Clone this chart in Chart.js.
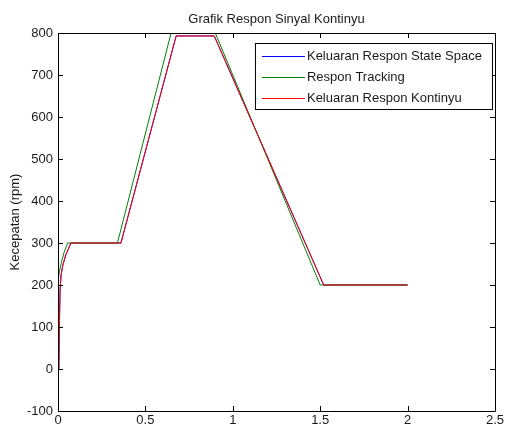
<!DOCTYPE html>
<html>
<head>
<meta charset="utf-8">
<script src="https://cdn.jsdelivr.net/npm/chart.js@4.4.1/dist/chart.umd.min.js"></script>
<style>
  html, body { margin: 0; padding: 0; background: #ffffff; }
  #wrap { width: 506px; height: 432px; }
</style>
</head>
<body>
<div id="wrap"><canvas id="c" width="506" height="432"></canvas></div>
<script>
// Time (s) and speed (rpm) samples for each response
const stateSpaceT = [0.005, 0.008, 0.012, 0.018, 0.028, 0.045, 0.074, 0.36, 0.676, 0.894, 1.52, 2.0];
const stateSpaceY = [0, 100, 190, 225, 248, 272, 300, 300, 793, 793, 200, 200];

const trackingT = [0, 0.008, 0.02, 0.035, 0.055, 0.34, 0.647, 0.9, 1.5, 2.0];
const trackingY = [210, 232, 255, 278, 300, 300, 800, 800, 200, 200];

const kontinyuT = [0.005, 0.008, 0.012, 0.018, 0.028, 0.045, 0.074, 0.36, 0.676, 0.894, 1.52, 2.0];
const kontinyuY = [0, 100, 190, 225, 248, 272, 300, 300, 793, 793, 200, 200];

const seriesLabels = ['Keluaran Respon State Space', 'Respon Tracking', 'Keluaran Respon Kontinyu'];
const seriesColors = ['#0000ff', '#008000', '#ff0000'];

const xTicks = [0, 0.5, 1, 1.5, 2, 2.5];
const yTicks = [-100, 0, 100, 200, 300, 400, 500, 600, 700, 800];

const titleText = 'Grafik Respon Sinyal Kontinyu';
const yTitleText = 'Kecepatan (rpm)';

const FONT = '"Liberation Sans", Arial, Helvetica, sans-serif';
const TEXT_COLOR = '#1a1a1a';

function pairs(ts, ys) {
  return ts.map((t, i) => ({ x: t, y: ys[i] }));
}

// Box frame with inward ticks on all four sides, plus the title
const framePlugin = {
  id: 'frame',
  afterDraw(chart) {
    const { ctx, chartArea: a, scales } = chart;
    const xs = scales.x, ys = scales.y;
    ctx.save();
    ctx.strokeStyle = '#000000';
    ctx.lineWidth = 1;
    ctx.beginPath();
    ctx.rect(Math.round(a.left) + 0.5, Math.round(a.top) + 0.5,
             Math.round(a.right - a.left), Math.round(a.bottom - a.top));
    ctx.stroke();
    const tl = 5;
    ctx.beginPath();
    xTicks.forEach(v => {
      const px = Math.round(xs.getPixelForValue(v)) + 0.5;
      ctx.moveTo(px, a.bottom); ctx.lineTo(px, a.bottom - tl);
      ctx.moveTo(px, a.top); ctx.lineTo(px, a.top + tl);
    });
    yTicks.forEach(v => {
      const py = Math.round(ys.getPixelForValue(v)) + 0.5;
      ctx.moveTo(a.left, py); ctx.lineTo(a.left + tl, py);
      ctx.moveTo(a.right, py); ctx.lineTo(a.right - tl, py);
    });
    ctx.stroke();

    ctx.fillStyle = TEXT_COLOR;
    ctx.font = '13px ' + FONT;
    ctx.textAlign = 'center';
    ctx.textBaseline = 'middle';
    ctx.fillText(titleText, (a.left + a.right) / 2, 19);
    ctx.restore();
  }
};

// Boxed legend inside the top-right of the plot
const boxLegendPlugin = {
  id: 'boxLegend',
  afterDraw(chart) {
    const { ctx, chartArea: a } = chart;
    const right = a.right - 3, left = right - 237;
    const top = a.top + 10, bottom = top + 66;
    ctx.save();
    ctx.fillStyle = '#ffffff';
    ctx.fillRect(left, top, right - left, bottom - top);
    ctx.strokeStyle = '#000000';
    ctx.lineWidth = 1;
    ctx.strokeRect(left + 0.5, top + 0.5, right - left, bottom - top);
    ctx.font = '13px ' + FONT;
    ctx.textAlign = 'left';
    ctx.textBaseline = 'middle';
    chart.data.datasets.forEach((ds, i) => {
      const y = top + 13 + i * 21;
      ctx.strokeStyle = ds.borderColor;
      ctx.beginPath();
      ctx.moveTo(left + 7, Math.round(y) + 0.5);
      ctx.lineTo(left + 50, Math.round(y) + 0.5);
      ctx.stroke();
      ctx.fillStyle = TEXT_COLOR;
      ctx.fillText(ds.label, left + 52, y);
    });
    ctx.restore();
  }
};

const lineStyle = { borderWidth: 1, pointRadius: 0, tension: 0, fill: false };

new Chart(document.getElementById('c'), {
  type: 'line',
  data: {
    datasets: [
      Object.assign({ label: seriesLabels[0], data: pairs(stateSpaceT, stateSpaceY), borderColor: seriesColors[0], order: 2 }, lineStyle),
      Object.assign({ label: seriesLabels[1], data: pairs(trackingT, trackingY), borderColor: seriesColors[1], order: 1 }, lineStyle),
      Object.assign({ label: seriesLabels[2], data: pairs(kontinyuT, kontinyuY), borderColor: seriesColors[2], order: 0 }, lineStyle)
    ]
  },
  options: {
    responsive: false,
    animation: false,
    layout: { padding: { top: 33, right: 8, left: 0, bottom: 0 } },
    plugins: {
      legend: { display: false },
      title: { display: false },
      tooltip: { enabled: false }
    },
    scales: {
      x: {
        type: 'linear',
        min: 0, max: 2.5,
        afterBuildTicks(scale) { scale.ticks = xTicks.map(v => ({ value: v })); },
        afterFit(scale) { scale.height = 21; },
        grid: { display: false, drawTicks: false, tickLength: 0 },
        border: { display: false },
        ticks: { color: TEXT_COLOR, font: { family: FONT, size: 13 }, padding: 2, maxRotation: 0, autoSkip: false,
                 callback: v => String(v) }
      },
      y: {
        type: 'linear',
        min: -100, max: 800,
        afterBuildTicks(scale) { scale.ticks = yTicks.map(v => ({ value: v })); },
        afterFit(scale) { scale.width = 58; },
        grid: { display: false, drawTicks: false, tickLength: 0 },
        border: { display: false },
        title: { display: true, text: yTitleText, color: TEXT_COLOR, font: { family: FONT, size: 13 }, padding: { top: 8, bottom: 0 } },
        ticks: { color: TEXT_COLOR, font: { family: FONT, size: 13 }, padding: 5, autoSkip: false,
                 callback: v => String(v) }
      }
    }
  },
  plugins: [framePlugin, boxLegendPlugin]
});
</script>
</body>
</html>
